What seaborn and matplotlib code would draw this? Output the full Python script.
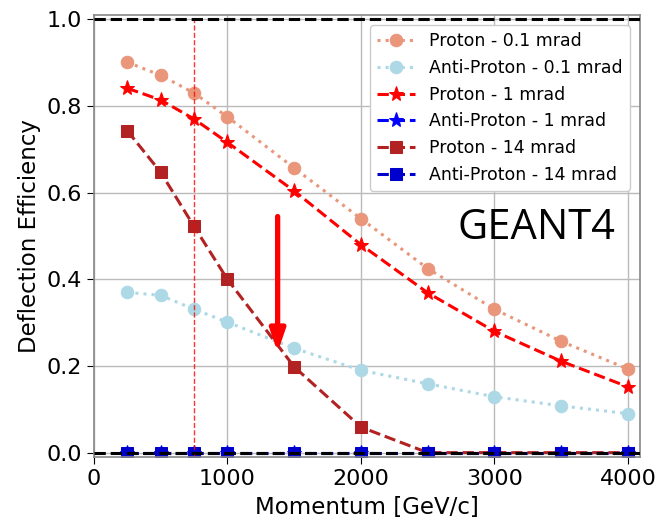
import matplotlib
matplotlib.use("Agg")
import matplotlib.pyplot as plt
import seaborn as sns
import pandas as pd
import numpy as np

momentum = [250, 500, 750, 1000, 1500, 2000, 2500, 3000, 3500, 4000]
proton_01 = [0.901, 0.871, 0.830, 0.775, 0.657, 0.540, 0.425, 0.331, 0.257, 0.193]
antiproton_01 = [0.370, 0.363, 0.331, 0.301, 0.241, 0.190, 0.159, 0.129, 0.108, 0.090]
proton_1 = [0.841, 0.814, 0.770, 0.716, 0.604, 0.480, 0.369, 0.280, 0.211, 0.152]
antiproton_1 = [0, 0, 0, 0, 0, 0, 0, 0, 0, 0]
proton_14 = [0.743, 0.647, 0.522, 0.400, 0.198, 0.059, 0.0, 0.0, 0.0, 0.0]
antiproton_14 = [0, 0, 0, 0, 0, 0, 0, 0, 0, 0]

labels = ["Proton - 0.1 mrad", "Anti-Proton - 0.1 mrad", "Proton - 1 mrad",
          "Anti-Proton - 1 mrad", "Proton - 14 mrad", "Anti-Proton - 14 mrad"]

sns.set_style("white")
plt.rcParams['font.family'] = ['DejaVu Sans']
plt.rcParams['text.color'] = 'black'
plt.rcParams['axes.labelcolor'] = 'black'
plt.rcParams['xtick.color'] = 'black'
plt.rcParams['ytick.color'] = 'black'

fig = plt.figure(figsize=(6.57, 5.19), dpi=100)
ax = fig.add_axes([0.143, 0.1195, 0.831, 0.8515])

series = [
    (proton_01, labels[0], "darksalmon", "o", ":", 9),
    (antiproton_01, labels[1], "lightblue", "o", ":", 9),
    (proton_1, labels[2], "red", "*", "--", 11),
    (antiproton_1, labels[3], "blue", "*", "--", 11),
    (proton_14, labels[4], "firebrick", "s", "--", 8.5),
    (antiproton_14, labels[5], "mediumblue", "s", "--", 9),
]
for vals, lab, col, mk, ls, ms in series:
    sns.lineplot(x=momentum, y=vals, ax=ax, label=lab, color=col, marker=mk,
                 linestyle=ls, linewidth=2.2, markersize=ms, markeredgecolor=col,
                 estimator=None)

ax.axhline(1.0, color="black", linestyle="--", linewidth=2.2, zorder=5)
ax.axhline(0.0, color="black", linestyle="--", linewidth=2.2, zorder=5)
ax.axvline(750, color="red", linestyle="--", linewidth=1, alpha=0.8)

ax.annotate("", xy=(1376, 0.232), xytext=(1376, 0.545),
            arrowprops=dict(arrowstyle="-|>,head_width=0.45,head_length=1.3",
                            color="red", lw=3.8, shrinkA=0, shrinkB=0))

ax.text(3315, 0.518, "GEANT4", fontsize=30, ha="center", va="center",
        family=["Open Sans", "DejaVu Sans"], color="black")

ax.set_xlim(0, 4090)
ax.set_ylim(-0.01, 1.01)
ax.set_xticks([0, 1000, 2000, 3000, 4000])
ax.set_yticks([0.0, 0.2, 0.4, 0.6, 0.8, 1.0])
ax.set_yticklabels(["0.0", "0.2", "0.4", "0.6", "0.8", "1.0"])
ax.grid(True, color="#bbbbbb", linewidth=1)
ax.set_axisbelow(True)
for s in ax.spines.values():
    s.set_color("#888888")
    s.set_linewidth(1.2)
ax.tick_params(axis="both", labelsize=16, length=5, color="black", direction="out",
               left=True, bottom=True, labelcolor="black")
ax.set_xlabel("Momentum [GeV/c]", fontsize=16.5, labelpad=5, color="black")
ax.set_ylabel("Deflection Efficiency", fontsize=16.5, labelpad=4, color="black")

leg = ax.legend(loc="upper right", fontsize=12.5, frameon=True, framealpha=1,
                edgecolor="#cccccc", borderaxespad=0.6, handlelength=2.2)
for t in leg.get_texts():
    t.set_color("black")

fig.savefig("out.png", dpi=100)
